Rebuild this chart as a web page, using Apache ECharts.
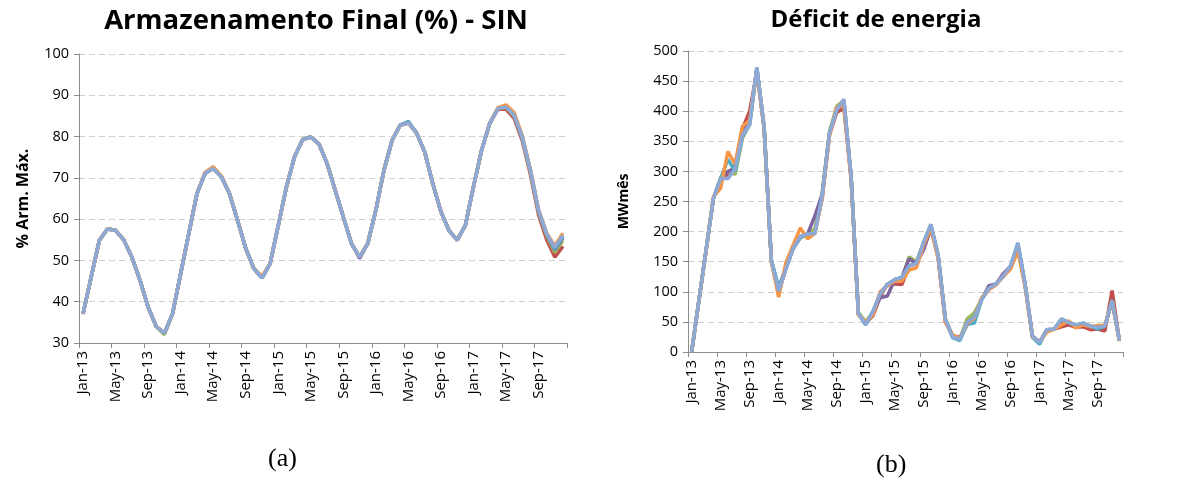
<!DOCTYPE html>
<html>
<head>
<meta charset="utf-8">
<script src="https://cdn.jsdelivr.net/npm/echarts@6/dist/echarts.min.js"></script>
<style>
html,body{margin:0;padding:0;background:#ffffff;}
#chart{width:1181px;height:486px;}
</style>
</head>
<body>
<div id="chart"></div>
<script>
// ---------- categories / tick labels ----------
const monthNames = ['Jan','Feb','Mar','Apr','May','Jun','Jul','Aug','Sep','Oct','Nov','Dec'];
const yearSuffixes = ['13','14','15','16','17'];

// ---------- (a) Armazenamento Final (%) - SIN ----------
const armRed    = [37.0,46.0,54.8,57.6,57.3,55.0,50.8,45.2,38.6,34.0,32.3,37.0,46.8,56.5,66.2,71.1,72.3,70.3,66.1,59.7,52.9,48.0,45.8,49.2,58.5,67.8,75.1,79.3,79.9,78.2,73.5,67.0,60.5,54.1,50.8,54.1,62.2,71.9,79.1,82.8,83.3,80.9,76.3,68.6,61.8,57.2,54.9,58.5,67.8,76.7,83.2,86.6,86.6,84.4,79.0,70.8,61.0,55.0,50.8,53.4];
const armGreen  = [37.1,46.0,54.9,57.6,57.3,55.0,50.8,45.2,38.7,34.0,32.0,37.1,46.8,56.5,66.2,71.1,72.3,70.3,66.2,59.7,52.9,48.0,45.8,49.2,58.5,67.8,75.1,79.3,79.9,78.2,73.5,67.0,60.5,54.1,50.8,54.1,62.2,71.9,79.1,82.8,83.3,80.9,76.3,68.6,61.8,57.2,54.9,58.5,67.8,76.7,83.2,86.8,87.1,85.0,79.6,71.3,61.7,56.0,52.0,54.8];
const armPurple = [37.1,46.0,54.9,57.6,57.3,55.0,50.8,45.2,38.7,34.0,32.4,37.1,46.8,56.5,66.2,71.1,72.3,70.3,66.2,59.7,52.9,48.0,45.8,49.2,58.5,67.8,75.1,79.3,79.9,78.2,73.5,67.0,60.5,54.1,50.5,54.1,62.2,71.9,79.1,82.8,83.3,80.9,76.3,68.6,61.8,57.2,54.9,58.5,67.8,76.7,83.2,86.8,87.2,85.2,79.8,71.7,62.0,56.3,52.6,55.5];
const armAqua   = [37.1,46.0,54.9,57.6,57.3,55.0,50.8,45.2,38.7,34.0,32.4,37.1,46.8,56.5,66.2,71.1,72.3,70.3,66.2,59.7,52.9,48.0,45.8,49.2,58.5,67.8,75.1,79.3,79.9,78.2,73.5,67.0,60.5,54.1,50.8,54.1,62.2,71.9,79.1,82.8,83.7,80.9,76.3,68.6,61.8,57.2,54.9,58.5,67.8,76.7,83.2,86.8,87.2,85.2,79.9,71.8,62.1,56.4,52.8,55.8];
const armOrange = [37.1,46.0,54.9,57.6,57.3,55.0,50.8,45.2,38.7,34.0,32.4,37.1,46.8,56.5,66.2,71.3,72.7,70.5,66.2,59.7,52.9,48.0,46.2,49.2,58.5,67.8,75.1,79.3,79.9,78.2,73.5,67.0,60.5,54.1,50.8,54.1,62.2,71.9,79.1,82.8,83.3,80.9,76.3,68.6,61.8,57.2,54.9,58.5,67.8,76.7,83.2,87.0,87.7,85.8,80.2,72.0,62.3,56.6,53.5,56.6];
const armLight  = [37.1,46.0,54.9,57.6,57.3,55.0,50.8,45.2,38.7,34.0,32.4,37.1,46.8,56.5,66.2,71.1,72.3,70.3,66.2,59.7,52.9,48.0,45.8,49.2,58.5,67.8,75.1,79.3,79.9,78.2,73.5,67.0,60.5,54.1,50.8,54.1,62.2,71.9,79.1,82.8,83.3,80.9,76.3,68.6,61.8,57.2,54.9,58.5,67.8,76.7,83.2,86.8,87.2,85.2,79.9,71.9,62.2,56.5,53.1,56.1];

// ---------- (b) Déficit de energia ----------
const defRed    = [0,85,170,255,285,295,310,370,400,465,372,150,98,140,172,190,196,200,255,360,398,405,288,62,48,60,92,113,113,112,143,148,178,210,158,50,27,24,45,58,88,104,112,130,140,178,110,25,17,35,38,42,45,41,42,37,38,35,102,19];
const defGreen  = [0,85,170,255,290,300,295,355,378,470,375,152,104,140,172,190,196,205,262,365,408,418,292,66,50,66,96,112,120,122,158,150,182,210,162,55,26,22,55,65,88,106,113,127,139,170,112,27,16,37,38,55,49,45,48,43,41,43,85,19];
const defPurple = [0,85,170,255,288,300,305,360,382,472,372,152,101,138,172,192,196,226,262,362,402,418,290,64,46,66,90,93,120,124,155,147,170,205,158,54,25,21,49,58,87,110,113,130,143,178,112,27,16,37,38,50,49,45,46,43,40,43,84,19];
const defAqua   = [0,85,170,255,288,320,300,358,378,472,372,152,108,140,172,190,196,197,258,362,404,412,290,64,45,67,97,112,120,124,143,147,182,212,160,54,24,19,46,48,87,106,113,125,143,181,112,25,13,37,38,54,49,42,48,43,38,43,86,19];
const defOrange = [0,85,168,258,272,333,312,375,385,468,370,150,91,148,178,206,188,197,255,358,406,410,285,62,50,62,100,110,118,118,136,140,178,206,155,50,28,22,47,56,90,104,112,126,138,168,108,26,17,33,38,45,52,40,45,42,44,44,85,18];
const defLight  = [0,85,170,255,288,288,304,360,378,473,372,152,101,138,172,192,196,197,258,362,402,420,290,64,46,67,97,112,120,124,143,147,182,212,160,54,25,21,49,58,87,106,113,127,143,181,112,27,16,37,38,55,49,45,48,43,41,43,86,19];

const seriesNames  = ['Série 1','Série 2','Série 3','Série 4','Série 5','Série 6'];
const seriesColors = ['#C0504D','#9BBB59','#8064A2','#4BACC6','#F79646','#8EA9D6'];
const armSeries = [armRed, armGreen, armPurple, armAqua, armOrange, armLight];
const defSeries = [defRed, defGreen, defPurple, defAqua, defOrange, defLight];

// build category labels
const categories = [];
yearSuffixes.forEach(y => monthNames.forEach(m => categories.push(m + '-' + y)));

const FONT = '"Open Sans", Lato, sans-serif';

function xAxisCfg(gridIndex) {
  return {
    type: 'category', gridIndex: gridIndex, data: categories, boundaryGap: true,
    axisLine: { show: true, lineStyle: { color: '#8c8c8c', width: 1 } },
    axisTick: { show: true, interval: 3, length: 5, lineStyle: { color: '#8c8c8c' } },
    axisLabel: { interval: 3, rotate: 90, fontSize: 15, color: '#000', fontFamily: FONT, margin: 8 },
    splitLine: { show: false }
  };
}
function yAxisCfg(gridIndex, min, max, interval, name, nameGap, nameSize) {
  return {
    type: 'value', gridIndex: gridIndex, min: min, max: max, interval: interval,
    name: name, nameLocation: 'middle', nameRotate: 90, nameGap: nameGap,
    nameTextStyle: { fontSize: nameSize, fontWeight: 'bold', color: '#000', fontFamily: FONT },
    axisLine: { show: true, lineStyle: { color: '#8c8c8c', width: 1 } },
    axisTick: { show: true, length: 5, lineStyle: { color: '#8c8c8c' } },
    axisLabel: { fontSize: 14.5, color: '#000', fontFamily: FONT, margin: 10 },
    splitLine: { show: true, lineStyle: { color: '#cfcfcf', type: [6, 4], width: 1 } }
  };
}

const series = [];
armSeries.forEach((d, k) => series.push({
  name: seriesNames[k], type: 'line', xAxisIndex: 0, yAxisIndex: 0, data: d,
  showSymbol: false, lineStyle: { width: 3.5, color: seriesColors[k] }, itemStyle: { color: seriesColors[k] },
  z: 2 + k
}));
defSeries.forEach((d, k) => series.push({
  name: seriesNames[k], type: 'line', xAxisIndex: 1, yAxisIndex: 1, data: d,
  showSymbol: false, lineStyle: { width: 3.5, color: seriesColors[k] }, itemStyle: { color: seriesColors[k] },
  z: 2 + k
}));

const chart = echarts.init(document.getElementById('chart'), null, { renderer: 'canvas' });
chart.setOption({
  animation: false,
  backgroundColor: '#ffffff',
  title: [
    { text: 'Armazenamento Final (%) - SIN', left: 311, top: 2, textAlign: 'center',
      textStyle: { fontSize: 27.5, fontWeight: 'bold', color: '#000', fontFamily: FONT } },
    { text: 'Déficit de energia', left: 871, top: 3, textAlign: 'center',
      textStyle: { fontSize: 24, fontWeight: 'bold', color: '#000', fontFamily: FONT } }
  ],
  grid: [
    { left: 79, top: 54, width: 488, height: 289, containLabel: false },
    { left: 688, top: 51, width: 435, height: 301, containLabel: false }
  ],
  xAxis: [xAxisCfg(0), xAxisCfg(1)],
  yAxis: [
    yAxisCfg(0, 30, 100, 10, '% Arm. Máx.', 48, 16),
    yAxisCfg(1, 0, 500, 50, 'MWmês', 57, 14)
  ],
  series: series,
  graphic: [
    { type: 'text', left: 268, top: 446, style: { text: '(a)', fontSize: 26, fontFamily: '"Liberation Serif", "DejaVu Serif", serif', fill: '#000' } },
    { type: 'text', left: 876, top: 452, style: { text: '(b)', fontSize: 26, fontFamily: '"Liberation Serif", "DejaVu Serif", serif', fill: '#000' } }
  ]
});
</script>
</body>
</html>
